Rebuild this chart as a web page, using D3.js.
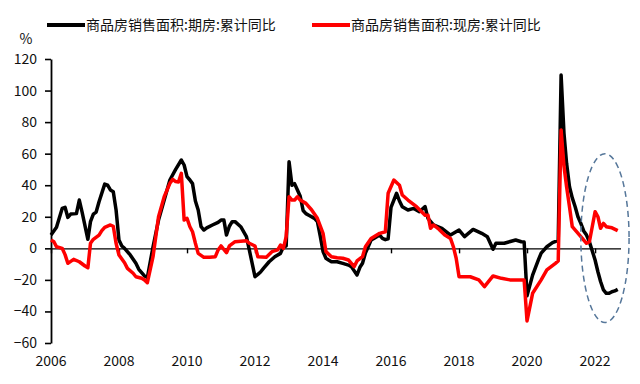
<!DOCTYPE html>
<html>
<head>
<meta charset="utf-8">
<script src="https://cdn.jsdelivr.net/npm/d3@7"></script>
<style>
    body { margin: 0; background: #fff; }
    text { font-family: "Noto Sans CJK SC", "Noto Sans", sans-serif; }
</style>
</head>
<body>
<div id="chart"></div>
<script>

// 商品房销售面积:期房:累计同比 (%)
const futureSales = [
    ["2006-01", 8.4], ["2006-03", 13.3], ["2006-05", 25.3], ["2006-06", 26], ["2006-07", 19.6], ["2006-08", 21.7],
    ["2006-10", 22], ["2006-11", 30.6], ["2006-12", 23], ["2007-02", 5.7], ["2007-03", 16.9], ["2007-04", 21.7],
    ["2007-05", 23], ["2007-06", 29.5], ["2007-08", 40.7], ["2007-09", 40], ["2007-10", 37], ["2007-11", 35.9],
    ["2007-12", 24.3], ["2008-01", 5.3], ["2008-02", 1.5], ["2008-03", 0], ["2008-05", -4.2], ["2008-07", -9.5],
    ["2008-08", -13.3], ["2008-10", -17.5], ["2008-11", -18.5], ["2009-01", 1], ["2009-03", 17.9], ["2009-05", 30.6],
    ["2009-07", 43.3], ["2009-09", 50], ["2009-11", 56], ["2009-12", 52.8], ["2010-01", 45.4], ["2010-02", 43.3],
    ["2010-03", 41], ["2010-04", 30], ["2010-05", 24.3], ["2010-06", 13.7], ["2010-07", 11.6], ["2010-08", 13],
    ["2010-10", 14.8], ["2010-12", 16.5], ["2011-01", 17.9], ["2011-02", 17.9], ["2011-03", 8.4], ["2011-04", 14],
    ["2011-05", 16.9], ["2011-06", 16.9], ["2011-08", 13.7], ["2011-10", 7.4], ["2011-11", -1], ["2012-01", -18],
    ["2012-02", -16.5], ["2012-03", -15], ["2012-04", -12.7], ["2012-06", -8.5], ["2012-08", -5.3], ["2012-10", -3.2],
    ["2012-11", 1], ["2012-12", 1.5], ["2013-01", 54.9], ["2013-02", 40], ["2013-03", 41], ["2013-04", 37],
    ["2013-05", 33], ["2013-06", 24], ["2013-07", 22], ["2013-08", 21], ["2013-10", 19], ["2013-11", 17],
    ["2013-12", 8], ["2014-01", -2], ["2014-02", -6.3], ["2014-03", -7.4], ["2014-04", -8.5], ["2014-06", -8.5],
    ["2014-08", -9.5], ["2014-10", -10.6], ["2014-11", -11.6], ["2015-01", -16.9], ["2015-02", -12], ["2015-03", -9.5],
    ["2015-04", -3], ["2015-05", 1], ["2015-06", 5.3], ["2015-07", 6.3], ["2015-09", 8.4], ["2015-10", 6.3],
    ["2015-11", 5.5], ["2015-12", 6], ["2016-01", 26], ["2016-03", 34.9], ["2016-04", 30], ["2016-05", 26.4],
    ["2016-07", 24.3], ["2016-09", 25.3], ["2016-11", 23.2], ["2017-01", 26.4], ["2017-02", 19], ["2017-04", 14.8],
    ["2017-07", 12.7], ["2017-10", 8.4], ["2018-01", 11.6], ["2018-03", 7.4], ["2018-06", 12], ["2018-09", 9.5],
    ["2018-11", 7.4], ["2019-01", -0.6], ["2019-02", 3.2], ["2019-05", 3.2], ["2019-09", 5.3], ["2019-11", 4.2],
    ["2019-12", 4], ["2020-01", -30], ["2020-03", -17], ["2020-05", -7.5], ["2020-06", -3], ["2020-08", 1],
    ["2020-10", 3.6], ["2020-12", 5], ["2021-01", 109.8], ["2021-02", 72.9], ["2021-03", 53.9], ["2021-04", 39],
    ["2021-05", 32], ["2021-06", 26.4], ["2021-07", 20], ["2021-08", 15.8], ["2021-09", 11], ["2021-10", 8.4],
    ["2021-11", 4.2], ["2021-12", -1.5], ["2022-01", -7.4], ["2022-02", -15], ["2022-03", -21], ["2022-04", -26.4],
    ["2022-05", -28.5], ["2022-06", -28.5], ["2022-07", -27.5], ["2022-08", -27], ["2022-09", -26]
];

// 商品房销售面积:现房:累计同比 (%)
const spotSales = [
    ["2006-01", 5.3], ["2006-02", 4.2], ["2006-03", 1], ["2006-05", 0], ["2006-06", -4], ["2006-07", -9.5],
    ["2006-09", -7], ["2006-11", -8.5], ["2007-01", -11.2], ["2007-02", -12.3], ["2007-03", 3.2], ["2007-04", 5.7],
    ["2007-06", 8.4], ["2007-07", 11.2], ["2007-08", 13.3], ["2007-10", 14.8], ["2007-11", 14], ["2007-12", 3.2],
    ["2008-01", -4.2], ["2008-03", -9.1], ["2008-04", -12.7], ["2008-06", -15.8], ["2008-07", -18], ["2008-09", -19],
    ["2008-10", -20], ["2008-11", -21.8], ["2009-01", -5.3], ["2009-03", 20], ["2009-05", 32.7], ["2009-07", 41.2],
    ["2009-08", 43.7], ["2009-09", 42.3], ["2009-10", 42], ["2009-11", 47.5], ["2009-12", 17.9], ["2010-01", 19],
    ["2010-02", 13.7], ["2010-03", 10.5], ["2010-04", 3.2], ["2010-05", -3.2], ["2010-07", -5.7], ["2010-09", -5.7],
    ["2010-11", -5.3], ["2010-12", -1], ["2011-01", 1.5], ["2011-03", -2.8], ["2011-04", 1.5], ["2011-06", 4.2],
    ["2011-08", 4.5], ["2011-10", 4.8], ["2011-11", 3.2], ["2012-01", 1.5], ["2012-02", -5.3], ["2012-05", -5.7],
    ["2012-07", -2.1], ["2012-09", -1], ["2012-10", 2.1], ["2012-11", 0], ["2012-12", 7.4], ["2013-01", 32.7],
    ["2013-02", 30.6], ["2013-03", 30.6], ["2013-04", 32.7], ["2013-05", 30.6], ["2013-07", 28.5], ["2013-09", 24.3],
    ["2013-11", 19], ["2014-01", 9.5], ["2014-02", -2.1], ["2014-04", -5.3], ["2014-06", -6], ["2014-08", -6.3],
    ["2014-10", -7.4], ["2014-12", -11.6], ["2015-01", -8], ["2015-03", -5.3], ["2015-04", 1], ["2015-06", 6.3],
    ["2015-09", 9.5], ["2015-11", 10.5], ["2015-12", 34.9], ["2016-02", 43.3], ["2016-04", 40], ["2016-05", 33.8],
    ["2016-07", 30.6], ["2016-10", 26.4], ["2017-01", 21], ["2017-02", 21], ["2017-03", 12.7], ["2017-04", 14.8],
    ["2017-06", 12], ["2017-08", 8.4], ["2017-10", 6.3], ["2017-11", 1], ["2017-12", -6.3], ["2018-01", -18],
    ["2018-03", -18], ["2018-05", -18], ["2018-08", -20], ["2018-10", -24.3], ["2019-01", -17.5], ["2019-04", -19],
    ["2019-07", -20], ["2019-10", -20], ["2019-12", -20], ["2020-01", -46], ["2020-03", -28.5], ["2020-06", -20],
    ["2020-08", -13.7], ["2020-11", -9.5], ["2020-12", -8], ["2021-01", 75], ["2021-02", 52], ["2021-03", 39],
    ["2021-04", 26.4], ["2021-05", 13.7], ["2021-08", 7.4], ["2021-10", 3.2], ["2021-11", 4.2], ["2022-01", 23.2],
    ["2022-02", 20], ["2022-03", 12.7], ["2022-04", 15.8], ["2022-05", 13.7], ["2022-07", 13], ["2022-09", 11.2]
];

const seriesNames = ["商品房销售面积:期房:累计同比", "商品房销售面积:现房:累计同比"];
const seriesColors = ["#000000", "#ff0000"];
const yTicks = [-60, -40, -20, 0, 20, 40, 60, 80, 100, 120];
const xTickYears = [2006, 2008, 2010, 2012, 2014, 2016, 2018, 2020, 2022];

// dashed ellipse round the latest months
const highlightMonths = ["2021-08", "2023-01"];
const highlightValues = [60, -47];


class SalesChart {

    constructor(parentElement, series) {
        this.parentElement = parentElement;
        this.series = series;
        this.initVis();
    }

    initVis() {
        let vis = this;
        vis.margin = {top: 59, right: 20, bottom: 41, left: 51};
        vis.width = 640 - vis.margin.left - vis.margin.right;
        vis.height = 384 - vis.margin.top - vis.margin.bottom;

        vis.parse = d3.timeParse("%Y-%m");

        vis.root = d3.select("#" + vis.parentElement).append("svg")
            .attr("width", 640)
            .attr("height", 384);

        vis.svg = vis.root.append("g")
            .attr("transform", "translate(" + vis.margin.left + "," + vis.margin.top + ")");

        // 34px per year, axis ends a little after the last month
        vis.x = d3.scaleTime()
            .domain([vis.parse("2006-01"), vis.parse("2022-10")])
            .range([0, 16.75 * 34]);

        vis.y = d3.scaleLinear()
            .domain([-60, 120])
            .range([vis.height, 0]);

        // y axis
        vis.svg.append("g")
            .attr("class", "y-axis")
            .call(d3.axisLeft(vis.y).tickValues(yTicks).tickSize(6).tickPadding(8).tickSizeOuter(0))
            .call(g => g.select(".domain").attr("stroke-width", 1.8))
            .call(g => g.selectAll(".tick line").attr("stroke-width", 1.6))
            .call(g => g.selectAll("text").attr("font-size", 14).attr("fill", "#111"));

        // zero line with year ticks
        vis.svg.append("g")
            .attr("class", "x-axis")
            .attr("transform", "translate(0," + vis.y(0) + ")")
            .call(d3.axisBottom(vis.x).tickValues(xTickYears.map(d => new Date(d, 0, 1))).tickSize(5).tickSizeOuter(0).tickFormat(""))
            .call(g => g.select(".domain").attr("stroke-width", 1.2))
            .call(g => g.selectAll(".tick line").attr("stroke-width", 1.4));

        vis.svg.selectAll(".year-label")
            .data(xTickYears)
            .enter().append("text")
            .attr("class", "year-label")
            .attr("x", d => vis.x(new Date(d, 0, 1)))
            .attr("y", vis.height + 23)
            .attr("text-anchor", "middle")
            .attr("font-size", 14)
            .attr("fill", "#111")
            .text(d => d);

        vis.root.append("text")
            .attr("x", 26)
            .attr("y", 44)
            .attr("text-anchor", "middle")
            .attr("font-size", 14)
            .attr("fill", "#111")
            .text("%");

        // legend
        let legendX = [47, 312];
        vis.legend = vis.root.selectAll(".legend")
            .data(seriesNames)
            .enter().append("g")
            .attr("class", "legend")
            .attr("transform", (d, i) => "translate(" + legendX[i] + ",25)");

        vis.legend.append("line")
            .attr("x1", 0).attr("x2", 38)
            .attr("stroke", (d, i) => seriesColors[i])
            .attr("stroke-width", 4);

        vis.legend.append("text")
            .attr("x", 39)
            .attr("dy", "0.36em")
            .attr("font-size", 14)
            .attr("fill", "#111")
            .text(d => d);

        vis.line = d3.line()
            .x(d => vis.x(vis.parse(d[0])))
            .y(d => vis.y(d[1]));

        vis.updateVis();
    }

    updateVis() {
        let vis = this;

        vis.svg.selectAll(".series")
            .data(vis.series)
            .enter().append("path")
            .attr("class", "series")
            .attr("d", d => vis.line(d))
            .attr("fill", "none")
            .attr("stroke", (d, i) => seriesColors[i])
            .attr("stroke-width", 3.5)
            .attr("stroke-linejoin", "round");

        let x0 = vis.x(vis.parse(highlightMonths[0])), x1 = vis.x(vis.parse(highlightMonths[1]));
        let y0 = vis.y(highlightValues[0]), y1 = vis.y(highlightValues[1]);

        vis.svg.append("ellipse")
            .attr("cx", (x0 + x1) / 2)
            .attr("cy", (y0 + y1) / 2)
            .attr("rx", (x1 - x0) / 2)
            .attr("ry", (y1 - y0) / 2)
            .attr("fill", "none")
            .attr("stroke", "#56779a")
            .attr("stroke-width", 1.5)
            .attr("stroke-dasharray", "6,4");
    }
}

new SalesChart("chart", [futureSales, spotSales]);

</script>
</body>
</html>
